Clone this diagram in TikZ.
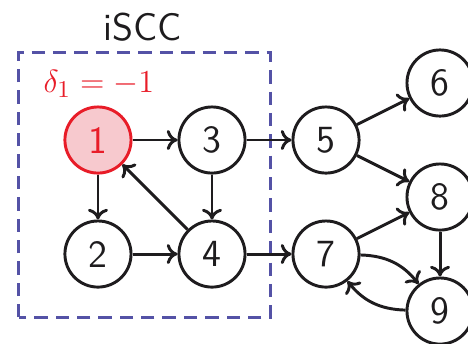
\documentclass[tikz,border=0pt]{standalone}
\usepackage{tikz}
\usetikzlibrary{arrows.meta,positioning}
\definecolor{SccBlue}{RGB}{84,82,166}
\definecolor{SccRed}{RGB}{232,28,40}
\definecolor{SccPink}{RGB}{247,201,206}
\definecolor{SccInk}{RGB}{30,28,30}
\tikzset{
  scc/vertex/.style={
    circle,
    draw=SccInk,
    line width=1.1pt,
    fill=white,
    minimum size=0.87cm,
    inner sep=0pt,
    text=SccInk,
    font=\sffamily\Large
  },
  scc/source/.style={scc/vertex, draw=SccRed, fill=SccPink, text=SccRed},
  scc/edge/.style={-{To[length=4pt,width=7.5pt]}, line width=1.1pt, draw=SccInk},
  scc/region/.style={draw=SccBlue, line width=1.1pt, dash pattern=on 5pt off 3pt},
  scc/title/.style={font=\sffamily\Large, text=SccInk},
  scc/delta/.style={font=\fontsize{13}{15}\selectfont, text=SccRed}
}

\begin{document}
\begin{tikzpicture}[x=1cm,y=1cm]
  \useasboundingbox (-1.289,-2.671) rectangle (4.868,1.842);
  \node[draw=none,minimum width=3.3cm,minimum height=3.47cm,inner sep=0pt] (iscc) at (0.612,-0.592) {};
  \draw[scc/region] (iscc.south west) rectangle (iscc.north east);
  \node[scc/title] (name) at (0.59,1.49) {iSCC};
  \node[scc/delta] (delta) at (0.01,0.74) {$\delta_1 = -1$};
  \node[scc/source] (v1) at (0,0) {1};
  \node[scc/vertex] (v3) at (1.5,0) {3};
  \node[scc/vertex] (v2) at (0,-1.5) {2};
  \node[scc/vertex] (v4) at (1.5,-1.5) {4};
  \node[scc/vertex] (v5) at (3,0) {5};
  \node[scc/vertex] (v7) at (3,-1.5) {7};
  \node[scc/vertex] (v6) at (4.5,0.75) {6};
  \node[scc/vertex] (v8) at (4.5,-0.75) {8};
  \node[scc/vertex] (v9) at (4.5,-2.25) {9};
  \draw[scc/edge] (v1) -- (v3);
  \draw[scc/edge] (v1) -- (v2);
  \draw[scc/edge] (v3) -- (v4);
  \draw[scc/edge] (v2) -- (v4);
  \draw[scc/edge] (v4) -- (v1);
  \draw[scc/edge] (v3) -- (v5);
  \draw[scc/edge] (v4) -- (v7);
  \draw[scc/edge] (v5) -- (v6);
  \draw[scc/edge] (v5) -- (v8);
  \draw[scc/edge] (v7) -- (v8);
  \draw[scc/edge] (v8) -- (v9);
  \draw[scc/edge] (v7) to[bend left=25] (v9);
  \draw[scc/edge] (v9) to[bend left=25] (v7);
\end{tikzpicture}
\end{document}
